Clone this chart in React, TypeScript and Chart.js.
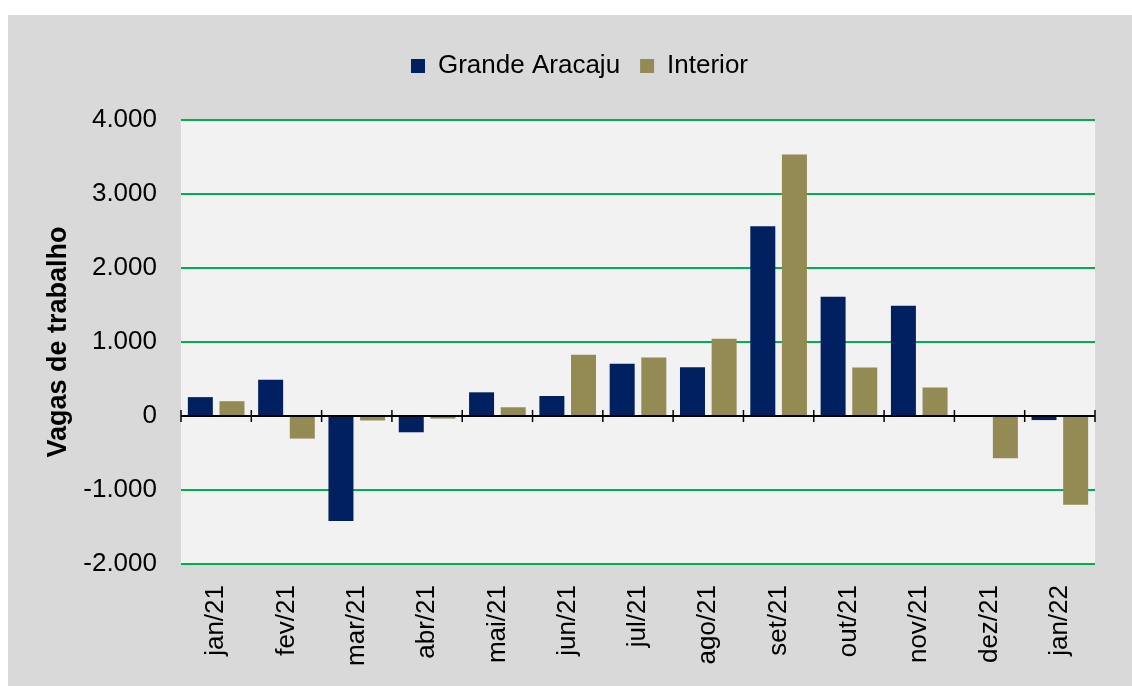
import React, { useEffect, useRef } from "react";
import { Chart, registerables } from "chart.js";

Chart.register(...registerables);

const categories = ["jan/21", "fev/21", "mar/21", "abr/21", "mai/21", "jun/21", "jul/21", "ago/21", "set/21", "out/21", "nov/21", "dez/21", "jan/22"];
const grandeAracaju = [255, 490, -1420, -220, 320, 270, 705, 660, 2565, 1610, 1490, 0, -55];
const interior = [200, -305, -60, -35, 118, 828, 792, 1045, 3535, 655, 385, -570, -1200];
const seriesNames = ["Grande Aracaju", "Interior"];
const yTicks = [4000, 3000, 2000, 1000, 0, -1000, -2000];

const FONT = "'Liberation Sans', Arial, sans-serif";

const fmt = (v: number) => {
  const s = Math.abs(v).toString().replace(/\B(?=(\d{3})+(?!\d))/g, ".");
  return (v < 0 ? "-" : "") + s;
};

const plotBg = {
  id: "plotBg",
  beforeDraw(chart: any) {
    const { ctx, chartArea: a } = chart;
    ctx.save();
    ctx.fillStyle = "#f2f2f2";
    ctx.fillRect(a.left, a.top, a.right - a.left, a.bottom - a.top);
    ctx.restore();
  },
};

const zeroAxis = {
  id: "zeroAxis",
  afterDatasetsDraw(chart: any) {
    const { ctx, chartArea: a, scales } = chart;
    const y0 = scales.y.getPixelForValue(0);
    const xs = scales.x;
    ctx.save();
    ctx.strokeStyle = "#000";
    ctx.lineWidth = 2;
    ctx.beginPath();
    ctx.moveTo(a.left, y0);
    ctx.lineTo(a.right, y0);
    ctx.stroke();
    ctx.lineWidth = 1.5;
    const n = categories.length;
    for (let i = 0; i <= n; i++) {
      const x = i < n ? xs.getPixelForValue(i) - (xs.getPixelForValue(1) - xs.getPixelForValue(0)) / 2 : a.right;
      ctx.beginPath();
      ctx.moveTo(x, y0 - 6);
      ctx.lineTo(x, y0 + 6);
      ctx.stroke();
    }
    ctx.restore();
  },
};

const legendSpacer = {
  id: "legendSpacer",
  beforeInit(chart: any) {
    const orig = chart.legend.fit;
    chart.legend.fit = function () {
      orig.bind(chart.legend)();
      this.height += 31;
    };
  },
};

export default function App() {
  const ref = useRef<HTMLCanvasElement | null>(null);
  useEffect(() => {
    if (!ref.current) return;
    const chart = new Chart(ref.current, {
      type: "bar",
      data: {
        labels: categories,
        datasets: [
          { label: seriesNames[0], data: grandeAracaju, backgroundColor: "#002060", categoryPercentage: 0.9, barPercentage: 0.79 },
          { label: seriesNames[1], data: interior, backgroundColor: "#948a54", categoryPercentage: 0.9, barPercentage: 0.79 },
        ],
      },
      options: {
        animation: false,
        responsive: false,
        maintainAspectRatio: false,
        layout: { padding: { left: 56, right: 37, top: 18, bottom: 0 } },
        plugins: {
          legend: {
            position: "top",
            labels: {
              font: { family: FONT, size: 26 },
              color: "#000",
              boxWidth: 14,
              boxHeight: 14,
              padding: 20,
            },
          },
          tooltip: { enabled: false },
        },
        scales: {
          x: {
            grid: { display: false, drawTicks: false },
            border: { display: false },
            ticks: {
              font: { family: FONT, size: 26 },
              color: "#000",
              minRotation: 90,
              maxRotation: 90,
              padding: 21,
            },
            afterFit(scale: any) {
              scale.height = 122;
            },
          },
          y: {
            min: -2000,
            max: 4000,
            afterBuildTicks(scale: any) {
              scale.ticks = yTicks.map((v) => ({ value: v }));
            },
            grid: {
              drawTicks: false,
              lineWidth: 2,
              color: (c: any) => (c.tick && c.tick.value === 0 ? "rgba(0,0,0,0)" : "#00b050"),
            },
            border: { display: false },
            ticks: {
              font: { family: FONT, size: 26 },
              color: "#000",
              padding: 24,
              callback: (v: any) => fmt(Number(v)),
            },
            title: {
              display: true,
              text: "Vagas de trabalho",
              font: { family: FONT, size: 27, weight: "bold" },
              color: "#000",
              padding: { top: -22, bottom: 0 },
            },
            afterFit(scale: any) {
              scale.width = 117;
            },
          },
        },
      },
      plugins: [plotBg, zeroAxis, legendSpacer],
    } as any);
    return () => chart.destroy();
  }, []);
  return (
    <div style={{ position: "fixed", left: 8, top: 15, width: 1124, height: 671, background: "#d9d9d9" }}>
      <canvas ref={ref} width={1124} height={671} style={{ display: "block" }} />
    </div>
  );
}
